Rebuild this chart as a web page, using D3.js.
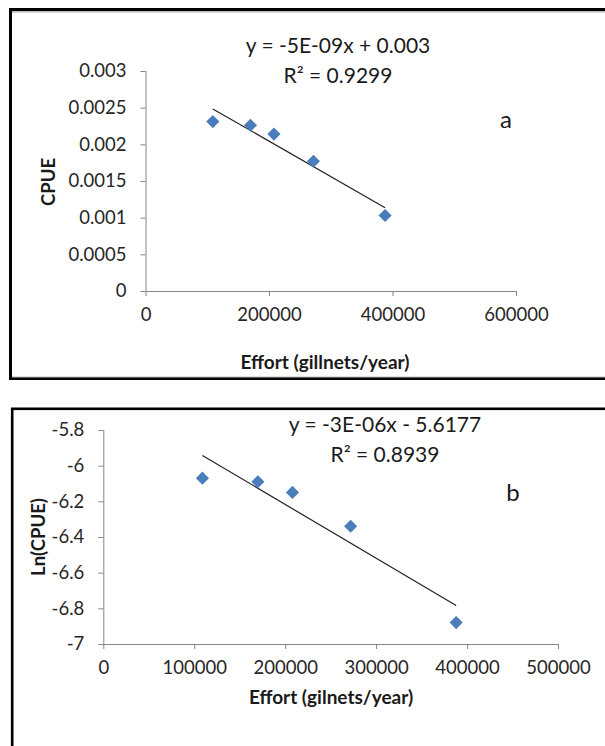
<!DOCTYPE html>
<html>
<head>
<meta charset="utf-8">
<script src="https://cdn.jsdelivr.net/npm/d3@7"></script>
<style>
  body { margin: 0; background: #fff; }
  text { font-family: Lato, "Open Sans", sans-serif; fill: #1a1a1a; }
  .axis path, .axis line { stroke: #868686; }
  .axis text { font-size: 18.5px; fill: #262626; }
</style>
</head>
<body>
<svg width="605" height="746"></svg>
<script>
// effort (gillnets/year)
var effort = [109000, 170000, 208000, 272000, 388000];
// panel a: CPUE
var cpue = [0.00231, 0.00226, 0.00214, 0.00177, 0.00103];
// panel b: Ln(CPUE)
var lnCpue = [-6.07, -6.09, -6.15, -6.34, -6.88];

var ticksA_x = [0, 200000, 400000, 600000];
var ticksA_y = [0, 0.0005, 0.001, 0.0015, 0.002, 0.0025, 0.003];
var ticksB_x = [0, 100000, 200000, 300000, 400000, 500000];
var ticksB_y = [-7, -6.8, -6.6, -6.4, -6.2, -6, -5.8];

var svg = d3.select("svg");

// least squares line, like the excel trendline
function linFit(xs, ys) {
  var mx = d3.mean(xs), my = d3.mean(ys);
  var sxy = d3.sum(xs, function(x, i) { return (x - mx) * (ys[i] - my); });
  var sxx = d3.sum(xs, function(x) { return (x - mx) * (x - mx); });
  var b = sxy / sxx;
  return { slope: b, icept: my - b * mx };
}

// frames round the two panels
svg.append("rect").attr("x", 10.5).attr("y", 9.5).attr("width", 620).attr("height", 369)
  .attr("fill", "none").attr("stroke", "#000").attr("stroke-width", 3);
svg.append("line").attr("x1", 12).attr("x2", 605).attr("y1", 11.8).attr("y2", 11.8)
  .attr("stroke", "#aaa").attr("stroke-width", 1.2);
svg.append("line").attr("x1", 12).attr("x2", 605).attr("y1", 377).attr("y2", 377)
  .attr("stroke", "#bbb").attr("stroke-width", 1);
svg.append("rect").attr("x", 12.2).attr("y", 408.8).attr("width", 620).attr("height", 400)
  .attr("fill", "none").attr("stroke", "#000").attr("stroke-width", 2.6);

function drawPanel(cfg) {
  var x = d3.scaleLinear().domain(cfg.xDomain).range(cfg.xRange);
  var y = d3.scaleLinear().domain(cfg.yDomain).range(cfg.yRange);
  var g = svg.append("g");

  g.append("g").attr("class", "axis")
    .attr("transform", "translate(0," + cfg.yRange[0] + ")")
    .call(d3.axisBottom(x).tickValues(cfg.xTicks).tickSize(5).tickPadding(12)
      .tickSizeOuter(0).tickFormat(d3.format("d")))
    .call(function(a) { a.select(".domain").attr("d", "M" + cfg.xRange[0] + ",0.5H" + cfg.xRange[1]); });

  g.append("g").attr("class", "axis")
    .attr("transform", "translate(" + cfg.xRange[0] + ",0)")
    .call(d3.axisLeft(y).tickValues(cfg.yTicks).tickSize(5).tickPadding(14)
      .tickSizeOuter(0).tickFormat(cfg.yFormat))
    .call(function(a) { a.select(".domain").attr("d", "M0.5," + cfg.yRange[0] + "V" + cfg.yRange[1]); });

  g.selectAll(".axis text").attr("font-family", "Lato");

  var fit = linFit(cfg.xs, cfg.ys);
  var x0 = d3.min(cfg.xs), x1 = d3.max(cfg.xs);
  g.append("line")
    .attr("x1", x(x0)).attr("y1", y(fit.icept + fit.slope * x0))
    .attr("x2", x(x1)).attr("y2", y(fit.icept + fit.slope * x1))
    .attr("stroke", "#222").attr("stroke-width", 1.2);

  g.selectAll("path.pt").data(cfg.xs).enter().append("path")
    .attr("class", "pt")
    .attr("d", d3.symbol().type(d3.symbolDiamond2).size(110))
    .attr("transform", function(d, i) { return "translate(" + x(d) + "," + y(cfg.ys[i]) + ")"; })
    .attr("fill", "#4a7ebb");

  // equation + R2 label
  g.append("text").attr("x", cfg.eqX).attr("y", cfg.eqY).attr("text-anchor", "middle")
    .attr("font-size", 21).text(cfg.eq);
  g.append("text").attr("x", cfg.eqX).attr("y", cfg.eqY + 30).attr("text-anchor", "middle")
    .attr("font-size", 21).text(cfg.r2);

  g.append("text").attr("x", cfg.tagX).attr("y", cfg.tagY).attr("text-anchor", "middle")
    .attr("font-size", 24).text(cfg.tag);

  g.append("text")
    .attr("transform", "translate(" + cfg.yLabX + "," + cfg.yLabY + ") rotate(-90)")
    .attr("text-anchor", "middle").attr("font-size", 18.5).attr("font-weight", "bold")
    .text(cfg.yLabel);

  g.append("text").attr("x", cfg.xLabX).attr("y", cfg.xLabY).attr("text-anchor", "middle")
    .attr("font-size", 19).attr("font-weight", "bold").text(cfg.xLabel);
}

drawPanel({
  xs: effort, ys: cpue,
  xDomain: [0, 600000], xRange: [145.5, 516],
  yDomain: [0, 0.003], yRange: [291, 71],
  xTicks: ticksA_x, yTicks: ticksA_y,
  yFormat: function(d) { return d === 0 ? "0" : String(+d.toFixed(4)); },
  eq: "y = -5E-09x + 0.003", r2: "R\u00b2 = 0.9299", eqX: 338, eqY: 53,
  tag: "a", tagX: 506, tagY: 128,
  yLabel: "CPUE", yLabX: 55, yLabY: 182,
  xLabel: "Effort (gillnets/year)", xLabX: 325, xLabY: 369
});

drawPanel({
  xs: effort, ys: lnCpue,
  xDomain: [0, 500000], xRange: [103.3, 558],
  yDomain: [-7, -5.8], yRange: [644, 430],
  xTicks: ticksB_x, yTicks: ticksB_y,
  yFormat: function(d) { return String(+d.toFixed(1)); },
  eq: "y = -3E-06x - 5.6177", r2: "R\u00b2 = 0.8939", eqX: 385, eqY: 432,
  tag: "b", tagX: 513, tagY: 501,
  yLabel: "Ln(CPUE)", yLabX: 45, yLabY: 537,
  xLabel: "Effort (gilnets/year)", xLabX: 331, xLabY: 704
});
</script>
</body>
</html>
